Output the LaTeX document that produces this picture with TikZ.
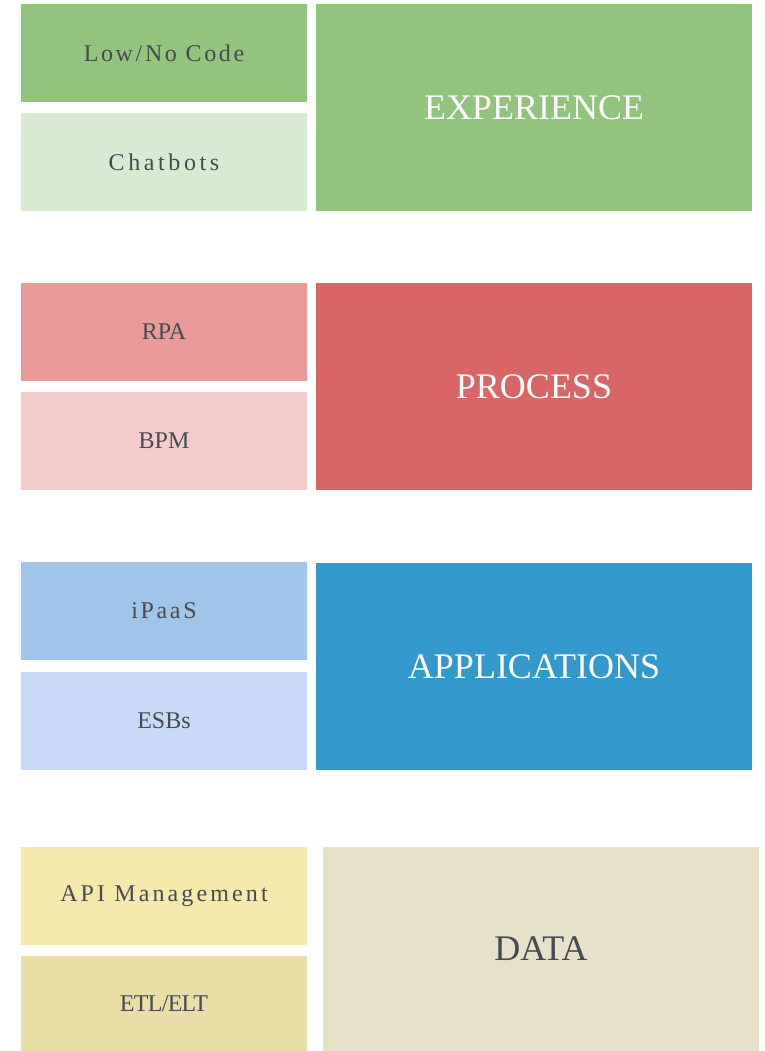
\documentclass[tikz,border=0pt]{standalone}
\usepackage{fontspec}
\setmainfont{Liberation Serif}
\definecolor{txt}{HTML}{454B50}
\definecolor{gdark}{HTML}{93C47D}
\definecolor{glight}{HTML}{D9EAD3}
\definecolor{rdark}{HTML}{D86666}
\definecolor{rmid}{HTML}{EA9999}
\definecolor{rlight}{HTML}{F4CCCC}
\definecolor{bdark}{HTML}{3399CC}
\definecolor{bmid}{HTML}{9FC5E8}
\definecolor{blight}{HTML}{C9DAF8}
\definecolor{ymid}{HTML}{F6E9AC}
\definecolor{ydark}{HTML}{E9DEA8}
\definecolor{ylight}{HTML}{E7E1C9}
\tikzset{
  smallbox/.style={rectangle, inner sep=0pt, minimum width=286pt, minimum height=98pt,
    text=txt, font=\fontsize{24}{28}\selectfont},
  bigbox/.style={rectangle, inner sep=0pt, minimum width=436pt, minimum height=207pt,
    text=white, font=\fontsize{36}{40}\selectfont},
}
\begin{document}
\begin{tikzpicture}[x=1pt,y=-1pt]
\useasboundingbox (0,0) rectangle (764,1051);
% Experience
\node[smallbox, fill=gdark] (low) at (164,53) {\addfontfeatures{LetterSpace=11}Low/No Code};
\node[smallbox, fill=glight] (chat) at (164,162) {\addfontfeatures{LetterSpace=15}Chatbots};
\node[bigbox, fill=gdark] (exp) at (534,107.5) {EXPERIENCE};
% Process
\node[smallbox, fill=rmid] (rpa) at (164,332) {RPA};
\node[smallbox, fill=rlight] (bpm) at (164,441) {BPM};
\node[bigbox, fill=rdark] (proc) at (534,386.5) {PROCESS};
% Applications
\node[smallbox, fill=bmid] (ipaas) at (164,611) {\addfontfeatures{LetterSpace=11}iPaaS};
\node[smallbox, fill=blight] (esb) at (164,721) {ESBs};
\node[bigbox, fill=bdark] (app) at (534,666.5) {APPLICATIONS};
% Data
\node[smallbox, fill=ymid] (api) at (164,896) {\addfontfeatures{LetterSpace=13}API Management};
\node[smallbox, fill=ydark, minimum height=95pt] (etl) at (164,1003.5) {\addfontfeatures{LetterSpace=-3}ETL/ELT};
\node[bigbox, fill=ylight, minimum height=204pt, text=txt] (data) at (541,949) {DATA};
\end{tikzpicture}
\end{document}
